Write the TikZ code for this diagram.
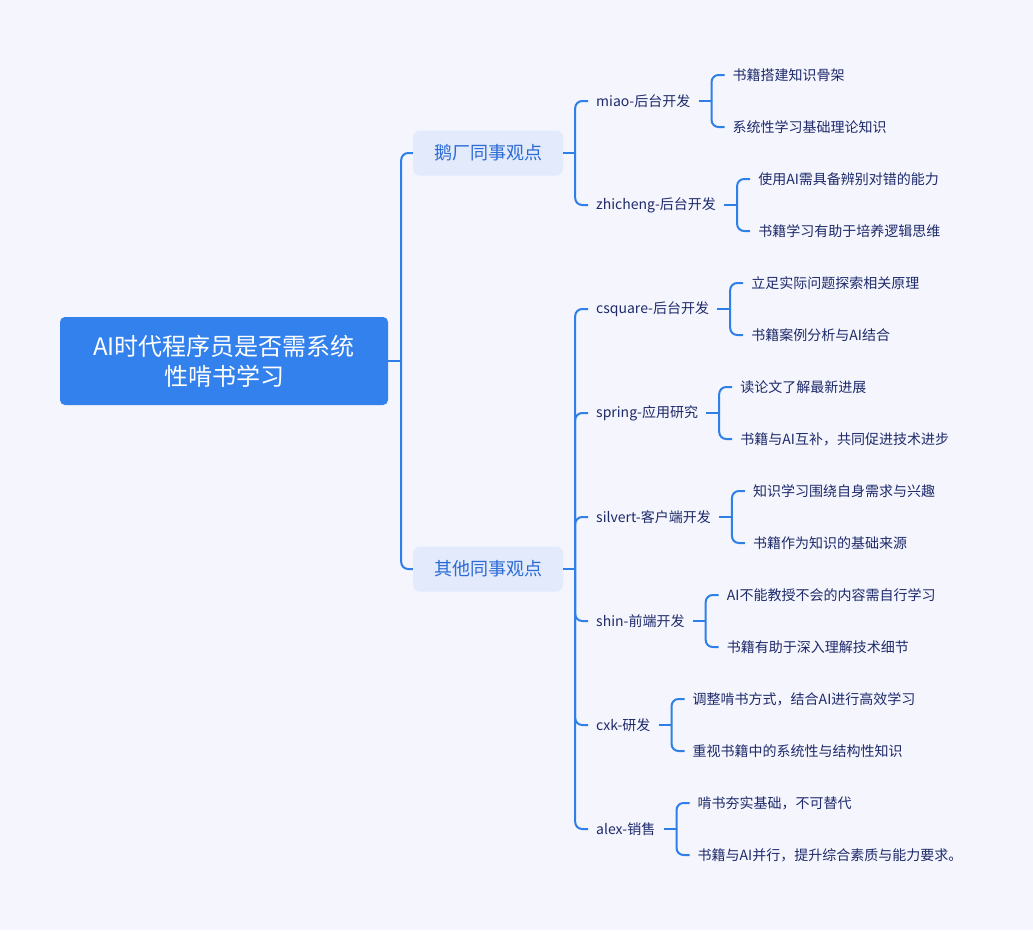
\documentclass[tikz,border=0pt]{standalone}
\usepackage{fontspec}
\setmainfont{Noto Sans CJK SC}
\usetikzlibrary{positioning,calc}

\definecolor{bgcol}{HTML}{F4F5FD}
\definecolor{linecol}{HTML}{2F7FE8}
\definecolor{rootcol}{HTML}{3381EC}
\definecolor{topicfill}{HTML}{E2EAFC}
\definecolor{topictext}{HTML}{2A6AD6}
\definecolor{leaftext}{HTML}{1E2A6A}

\begin{document}
\begin{tikzpicture}[x=1pt,y=-1pt,
    root/.style={fill=rootcol,text=white,rounded corners=5pt,minimum width=328pt,minimum height=88pt,align=center,font=\fontsize{24}{30}\selectfont},
    topic/.style={fill=topicfill,text=topictext,rounded corners=7pt,minimum width=150pt,minimum height=45pt,font=\fontsize{18}{22}\selectfont},
    person/.style={anchor=west,text=leaftext,inner xsep=8pt,inner ysep=0pt,font=\fontsize{14}{17}\selectfont},
    leaf/.style={person},
    link/.style={draw=linecol,line width=2pt,rounded corners=7pt}]

        \path[use as bounding box,fill=bgcol] (0,0) rectangle (1033,930);

        % root and the two groups
        \node[root] (root) at (224,361) {AI时代程序员是否需系统\\性啃书学习};
        \node[topic] (peng) at (488,153) {鹅厂同事观点};
        \node[topic] (other) at (488,569) {其他同事观点};

        \coordinate (rootj) at ($(root.east)+(13,0)$);
        \draw[link] (root.east) -- (rootj);
        \draw[link] (rootj) |- (peng.west);
        \draw[link] (rootj) |- (other.west);

        % 鹅厂同事
        \node[person] (miao) at (588,101) {miao-后台开发};
        \node[person] (zhicheng) at (588,205) {zhicheng-后台开发};

        \coordinate (pengj) at ($(peng.east)+(12,0)$);
        \draw[link] (peng.east) -- (pengj);
        \draw[link] (pengj) |- (miao.west);
        \draw[link] (pengj) |- (zhicheng.west);

        % 其他同事
        \node[person] (csquare) at (588,309) {csquare-后台开发};
        \node[person] (spring) at (588,413) {spring-应用研究};
        \node[person] (silvert) at (588,517) {silvert-客户端开发};
        \node[person] (shin) at (588,621) {shin-前端开发};
        \node[person] (cxk) at (588,725) {cxk-研发};
        \node[person] (alex) at (588,829) {alex-销售};

        \coordinate (otherj) at ($(other.east)+(12,0)$);
        \draw[link] (other.east) -- (otherj);
        \draw[link] (otherj) |- (csquare.west);
        \draw[link] (otherj) |- (spring.west);
        \draw[link] (otherj) |- (silvert.west);
        \draw[link] (otherj) |- (shin.west);
        \draw[link] (otherj) |- (cxk.west);
        \draw[link] (otherj) |- (alex.west);

        % miao
        \node[leaf] (miaoa) at ($(miao.east)+(26,-26)$) {书籍搭建知识骨架};
        \node[leaf] (miaob) at ($(miao.east)+(26,26)$) {系统性学习基础理论知识};
        \coordinate (miaoj) at ($(miao.east)+(13,0)$);
        \draw[link] (miao.east) -- (miaoj);
        \draw[link] (miaoj) |- (miaoa.west);
        \draw[link] (miaoj) |- (miaob.west);

        % zhicheng
        \node[leaf] (zhichenga) at ($(zhicheng.east)+(26,-26)$) {使用AI需具备辨别对错的能力};
        \node[leaf] (zhichengb) at ($(zhicheng.east)+(26,26)$) {书籍学习有助于培养逻辑思维};
        \coordinate (zhichengj) at ($(zhicheng.east)+(13,0)$);
        \draw[link] (zhicheng.east) -- (zhichengj);
        \draw[link] (zhichengj) |- (zhichenga.west);
        \draw[link] (zhichengj) |- (zhichengb.west);

        % csquare
        \node[leaf] (csquarea) at ($(csquare.east)+(26,-26)$) {立足实际问题探索相关原理};
        \node[leaf] (csquareb) at ($(csquare.east)+(26,26)$) {书籍案例分析与AI结合};
        \coordinate (csquarej) at ($(csquare.east)+(13,0)$);
        \draw[link] (csquare.east) -- (csquarej);
        \draw[link] (csquarej) |- (csquarea.west);
        \draw[link] (csquarej) |- (csquareb.west);

        % spring
        \node[leaf] (springa) at ($(spring.east)+(26,-26)$) {读论文了解最新进展};
        \node[leaf] (springb) at ($(spring.east)+(26,26)$) {书籍与AI互补，共同促进技术进步};
        \coordinate (springj) at ($(spring.east)+(13,0)$);
        \draw[link] (spring.east) -- (springj);
        \draw[link] (springj) |- (springa.west);
        \draw[link] (springj) |- (springb.west);

        % silvert
        \node[leaf] (silverta) at ($(silvert.east)+(26,-26)$) {知识学习围绕自身需求与兴趣};
        \node[leaf] (silvertb) at ($(silvert.east)+(26,26)$) {书籍作为知识的基础来源};
        \coordinate (silvertj) at ($(silvert.east)+(13,0)$);
        \draw[link] (silvert.east) -- (silvertj);
        \draw[link] (silvertj) |- (silverta.west);
        \draw[link] (silvertj) |- (silvertb.west);

        % shin
        \node[leaf] (shina) at ($(shin.east)+(26,-26)$) {AI不能教授不会的内容需自行学习};
        \node[leaf] (shinb) at ($(shin.east)+(26,26)$) {书籍有助于深入理解技术细节};
        \coordinate (shinj) at ($(shin.east)+(13,0)$);
        \draw[link] (shin.east) -- (shinj);
        \draw[link] (shinj) |- (shina.west);
        \draw[link] (shinj) |- (shinb.west);

        % cxk
        \node[leaf] (cxka) at ($(cxk.east)+(26,-26)$) {调整啃书方式，结合AI进行高效学习};
        \node[leaf] (cxkb) at ($(cxk.east)+(26,26)$) {重视书籍中的系统性与结构性知识};
        \coordinate (cxkj) at ($(cxk.east)+(13,0)$);
        \draw[link] (cxk.east) -- (cxkj);
        \draw[link] (cxkj) |- (cxka.west);
        \draw[link] (cxkj) |- (cxkb.west);

        % alex
        \node[leaf] (alexa) at ($(alex.east)+(26,-26)$) {啃书夯实基础，不可替代};
        \node[leaf] (alexb) at ($(alex.east)+(26,26)$) {书籍与AI并行，提升综合素质与能力要求。};
        \coordinate (alexj) at ($(alex.east)+(13,0)$);
        \draw[link] (alex.east) -- (alexj);
        \draw[link] (alexj) |- (alexa.west);
        \draw[link] (alexj) |- (alexb.west);

    \end{tikzpicture}
\end{document}
